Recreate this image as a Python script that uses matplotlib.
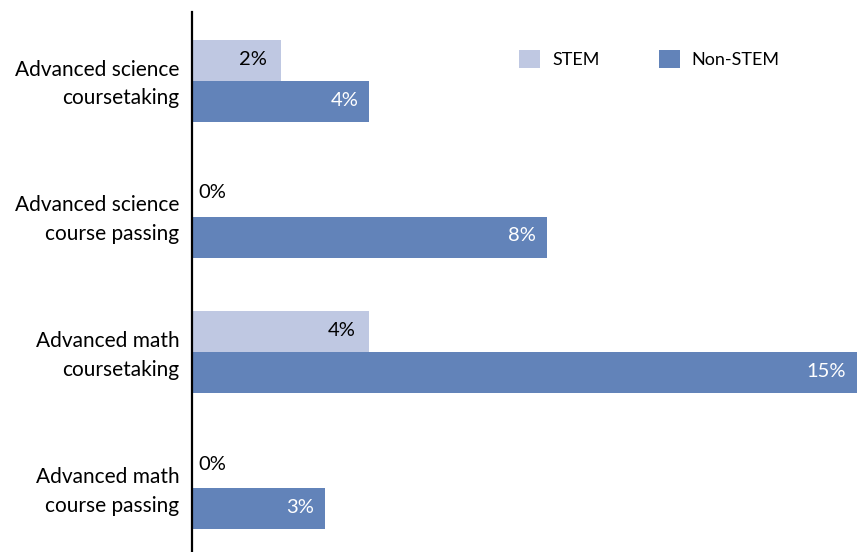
import numpy as np
import matplotlib.pyplot as plt

plt.rcParams['font.family'] = ['Lato', 'DejaVu Sans']

categories = ['Advanced science\ncoursetaking', 'Advanced science\ncourse passing',
              'Advanced math\ncoursetaking', 'Advanced math\ncourse passing']
stem = [2, 0, 4, 0]
non_stem = [4, 8, 15, 3]

stem_color = '#bfc8e2'
non_color = '#6283b9'

fig = plt.figure(figsize=(8.57, 5.52), dpi=100)
ax = fig.add_axes([192 / 857, 0, 1 - 192 / 857, 540 / 552])

y = np.arange(len(categories))
h = 0.302
b1 = ax.barh(y - h / 2, stem, height=h, color=stem_color, label='STEM')
b2 = ax.barh(y + h / 2, non_stem, height=h, color=non_color, label='Non-STEM')

for yi, v in zip(y, stem):
    if v == 0:
        ax.text(0.15, yi - h / 2 - 0.025, f'{v}%', ha='left', va='center', fontsize=14.5, color='black')
    else:
        ax.text(v - 0.3, yi - h / 2 - 0.01, f'{v}%', ha='right', va='center', fontsize=14.5, color='black')
for yi, v in zip(y, non_stem):
    ax.text(v - 0.25, yi + h / 2 - 0.01, f'{v}%', ha='right', va='center', fontsize=14.5, color='white')

ax.set_xlim(0, 15)
ax.set_ylim(3.47, -0.508)
ax.set_yticks(y - 0.025)
ax.set_yticklabels(categories, fontsize=15, linespacing=1.55, ha='right', multialignment='right')
ax.tick_params(axis='y', length=0, pad=9)
ax.set_xticks([])
for s in ['top', 'right', 'bottom']:
    ax.spines[s].set_visible(False)
ax.spines['left'].set_linewidth(1.6)

ax.legend(loc='upper left', bbox_to_anchor=(0.468, 0.96), ncol=2, frameon=False,
          fontsize=13, handlelength=1.15, handleheight=1.15, columnspacing=3.3, handletextpad=0.65)

fig.savefig('out.png', dpi=100)
